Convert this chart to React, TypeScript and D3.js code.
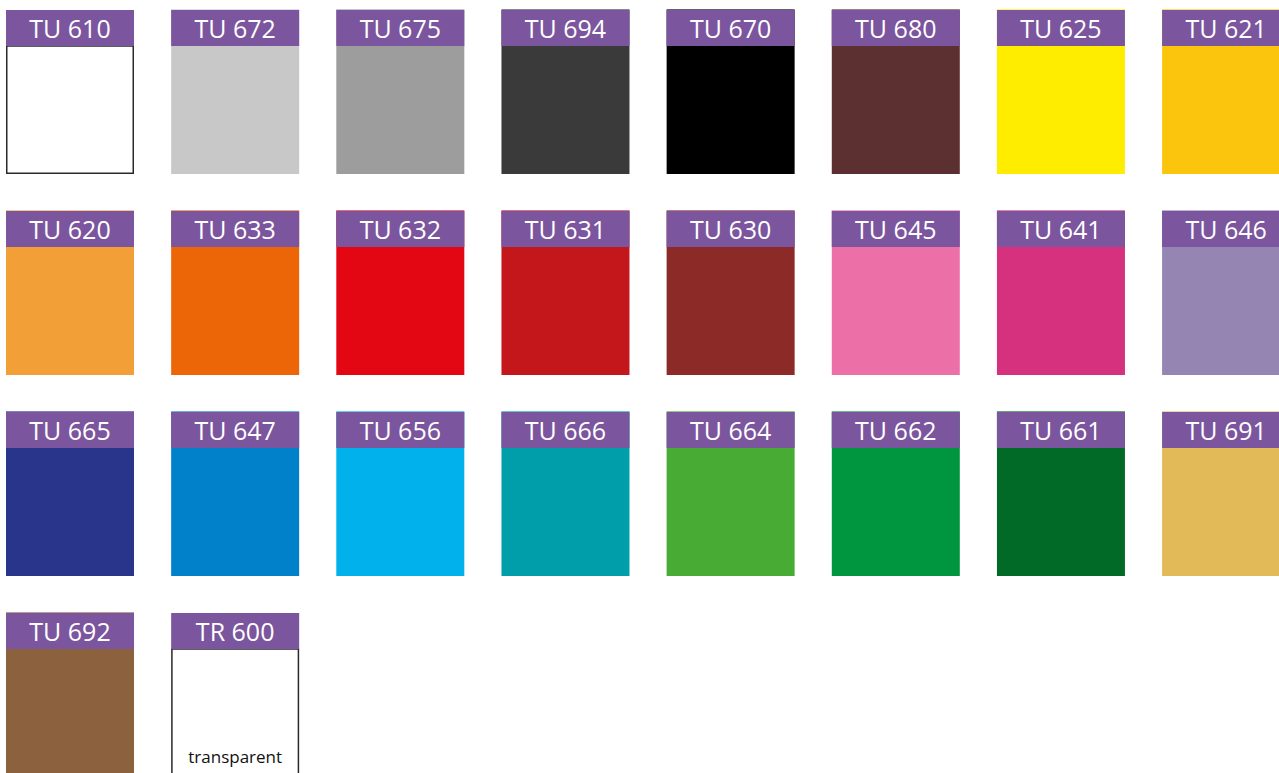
import { FC, useMemo } from "react";
import * as d3 from "d3";

const WIDTH = 1279;
const HEIGHT = 773;
const COLS = 8;
const HEADER_H = 36;
const HEADER_FILL = "#7b559e";

// swatch codes and their colours
const codes = [
  "TU 610", "TU 672", "TU 675", "TU 694", "TU 670", "TU 680", "TU 625", "TU 621",
  "TU 620", "TU 633", "TU 632", "TU 631", "TU 630", "TU 645", "TU 641", "TU 646",
  "TU 665", "TU 647", "TU 656", "TU 666", "TU 664", "TU 662", "TU 661", "TU 691",
  "TU 692", "TR 600",
];
const colors = [
  "#ffffff", "#c8c8c8", "#9d9d9d", "#3a3a3a", "#000000", "#5c3030", "#ffed00", "#fcc50d",
  "#f39f37", "#ec6608", "#e30613", "#c4171c", "#8b2a27", "#ed6fa7", "#d6317f", "#9585b2",
  "#29358a", "#0281cb", "#00b1eb", "#009dab", "#47ab34", "#00963f", "#006a26", "#e2bb58",
  "#8c623e", "#ffffff",
];
const notes: Record<string, string> = { "TR 600": "transparent" };

const App: FC = () => {
  const rows = Math.ceil(codes.length / COLS);

  const xScale = useMemo(
    () =>
      d3
        .scaleBand<number>()
        .domain(d3.range(COLS))
        .range([6, 1290.1])
        .paddingInner(37.15 / 165.15)
        .paddingOuter(0),
    []
  );
  const yScale = useMemo(
    () =>
      d3
        .scaleBand<number>()
        .domain(d3.range(rows))
        .range([10, 777])
        .paddingInner(37 / 201)
        .paddingOuter(0),
    [rows]
  );

  const tiles = codes.map((code, i) => {
    const x = xScale(i % COLS)!;
    const y = yScale(Math.floor(i / COLS))!;
    const w = xScale.bandwidth();
    const h = yScale.bandwidth();
    const fill = colors[i];
    const isWhite = fill === "#ffffff";
    return (
      <g key={code}>
        {isWhite ? (
          <rect
            x={x + 0.75}
            y={y + HEADER_H}
            width={w - 1.5}
            height={h - HEADER_H - 0.75}
            fill="#ffffff"
            stroke="#2a2a2a"
            strokeWidth={1.5}
          />
        ) : (
          <rect x={x} y={y - 0.6} width={w} height={h + 0.6} fill={fill} />
        )}
        <rect x={x} y={y} width={w} height={HEADER_H} fill={HEADER_FILL} />
        <text
          x={x + w / 2}
          y={y + HEADER_H / 2}
          textAnchor="middle"
          dominantBaseline="central"
          fontSize={25}
          fill="#ffffff"
        >
          {code}
        </text>
        {notes[code] && (
          <text
            x={x + w / 2}
            y={y + h - 21}
            textAnchor="middle"
            dominantBaseline="central"
            fontSize={17}
            fill="#111111"
          >
            {notes[code]}
          </text>
        )}
      </g>
    );
  });

  return (
    <svg
      width={WIDTH}
      height={HEIGHT}
      style={{ position: "absolute", left: 0, top: 0, fontFamily: "'Open Sans', 'Noto Sans', sans-serif" }}
    >
      <rect width={WIDTH} height={HEIGHT} fill="#ffffff" />
      {tiles}
    </svg>
  );
};

export default App;
